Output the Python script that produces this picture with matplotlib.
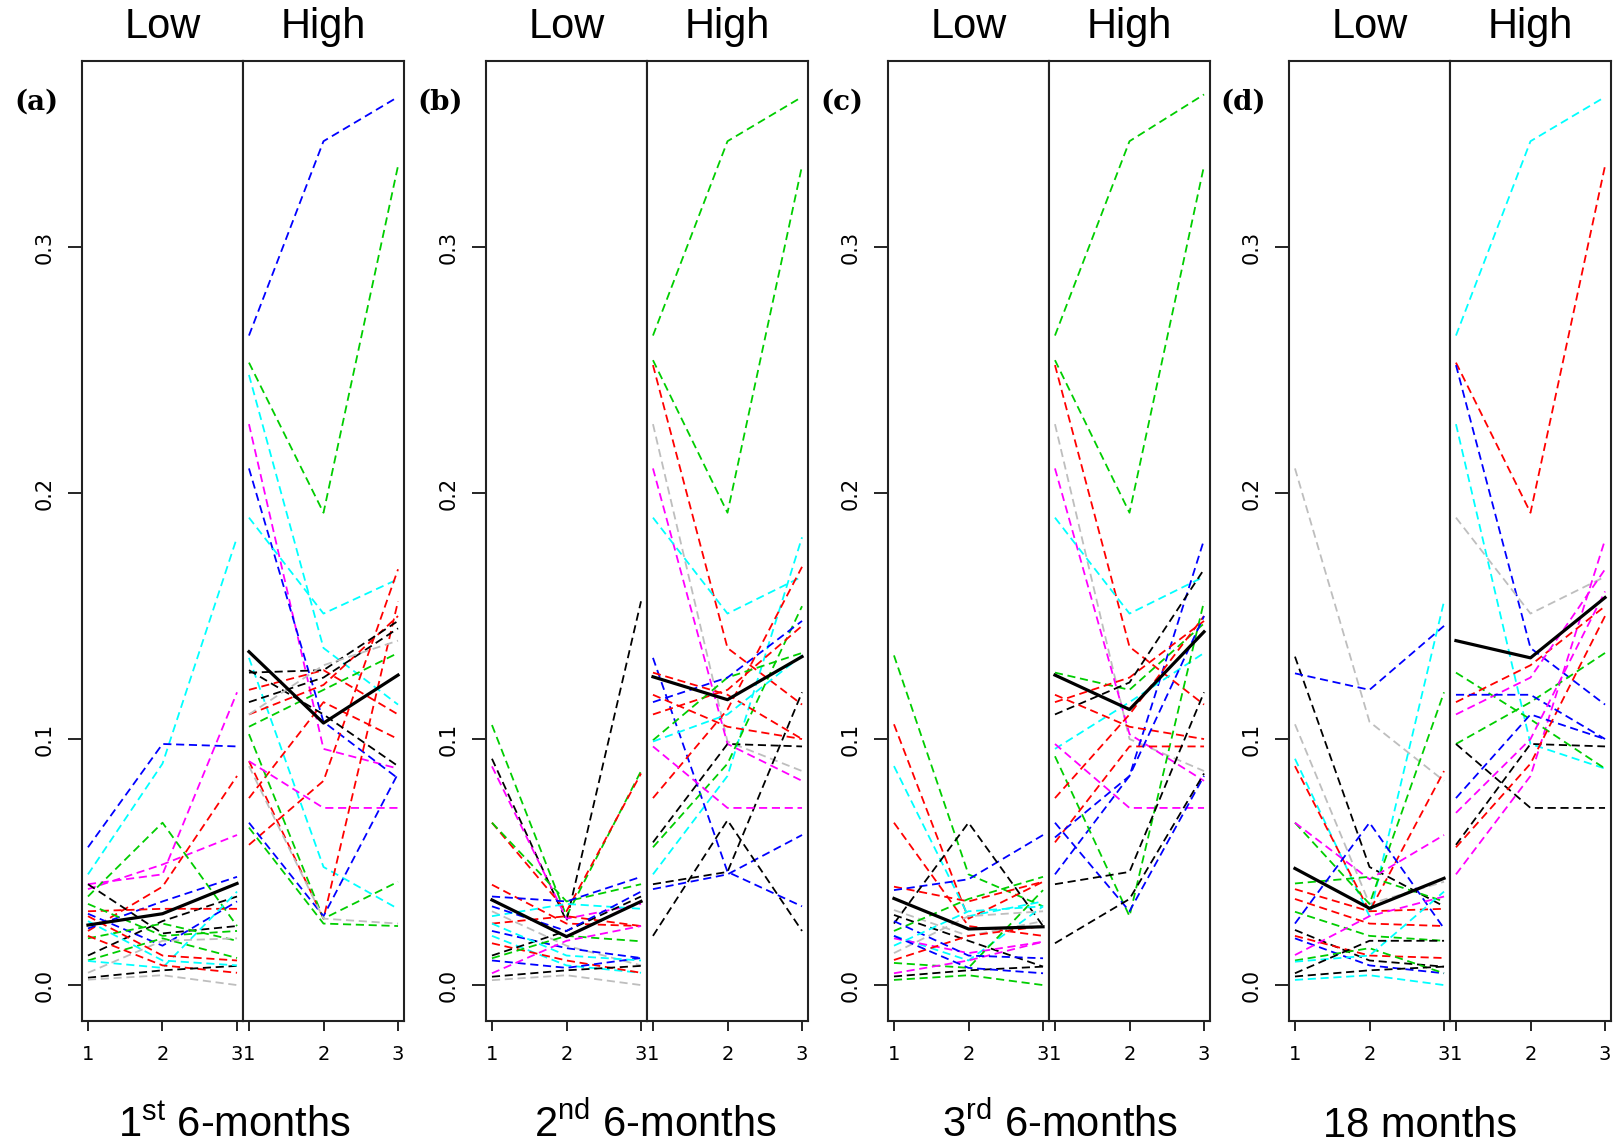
import matplotlib
matplotlib.use("Agg")
import matplotlib.pyplot as plt

# line colours by group code
palette = {'k': 'black', 'r': '#FF0000', 'g': '#00CD00', 'b': '#0000FF',
           'c': '#00FFFF', 'm': '#FF00FF', 'y': '#BEBEBE'}

x = [1, 2, 3]

# ---- (a) 1st 6-months ----
a_low_grp = "cbmmrgkbbkrggcrkyycrg"
a_low = [[0.045, 0.090, 0.182], [0.056, 0.098, 0.097], [0.041, 0.045, 0.119],
         [0.039, 0.049, 0.061], [0.022, 0.040, 0.085], [0.036, 0.066, 0.024],
         [0.041, 0.021, 0.024], [0.023, 0.034, 0.044], [0.029, 0.016, 0.034],
         [0.012, 0.026, 0.036], [0.030, 0.031, 0.031], [0.019, 0.025, 0.018],
         [0.010, 0.019, 0.011], [0.0098, 0.007, 0.038], [0.020, 0.008, 0.005],
         [0.003, 0.006, 0.0078], [0.0022, 0.004, 0.000], [0.005, 0.018, 0.019],
         [0.026, 0.010, 0.008], [0.028, 0.012, 0.010], [0.033, 0.020, 0.022]]
a_low_mean = [0.0244, 0.029, 0.0413]
a_high_grp = "bgcmbccrrrrrkkkgggbyym"
a_high = [[0.264, 0.343, 0.361], [0.253, 0.192, 0.333], [0.248, 0.137, 0.114],
          [0.228, 0.096, 0.088], [0.210, 0.107, 0.084], [0.190, 0.151, 0.165],
          [0.133, 0.048, 0.031], [0.091, 0.027, 0.156], [0.057, 0.083, 0.169],
          [0.110, 0.122, 0.150], [0.076, 0.115, 0.100], [0.120, 0.128, 0.110],
          [0.127, 0.128, 0.148], [0.115, 0.125, 0.145], [0.128, 0.110, 0.089],
          [0.105, 0.120, 0.135], [0.102, 0.027, 0.042], [0.064, 0.025, 0.024],
          [0.066, 0.028, 0.086], [0.089, 0.027, 0.025], [0.110, 0.130, 0.140],
          [0.091, 0.072, 0.072]]
a_high_mean = [0.1355, 0.1065, 0.126]

# ---- (b) 2nd 6-months ----
b_low_grp = "gkmrgrbycrbcrkgbmkybc"
b_low = [[0.1057, 0.028, 0.087], [0.092, 0.026, 0.156], [0.0889, 0.027, 0.033],
         [0.066, 0.030, 0.086], [0.066, 0.034, 0.041], [0.0408, 0.025, 0.024],
         [0.036, 0.034, 0.044], [0.030, 0.016, 0.008], [0.028, 0.033, 0.031],
         [0.025, 0.028, 0.024], [0.022, 0.015, 0.011], [0.020, 0.008, 0.005],
         [0.017, 0.010, 0.005], [0.012, 0.022, 0.036], [0.0109, 0.020, 0.0178],
         [0.010, 0.007, 0.011], [0.0048, 0.018, 0.024], [0.0034, 0.006, 0.0078],
         [0.002, 0.004, 0.000], [0.032, 0.022, 0.038], [0.025, 0.012, 0.010]]
b_low_mean = [0.0346, 0.0197, 0.0340]
b_high_grp = "ggrymccbbkkkgrrrgmbcr"
b_high = [[0.264, 0.343, 0.361], [0.254, 0.192, 0.333], [0.252, 0.137, 0.114],
          [0.228, 0.099, 0.087], [0.210, 0.098, 0.083], [0.190, 0.151, 0.166],
          [0.045, 0.085, 0.182], [0.133, 0.046, 0.032], [0.039, 0.045, 0.061],
          [0.041, 0.046, 0.119], [0.020, 0.067, 0.022], [0.058, 0.098, 0.097],
          [0.056, 0.090, 0.154], [0.076, 0.112, 0.170], [0.110, 0.120, 0.146],
          [0.127, 0.118, 0.100], [0.0995, 0.125, 0.135], [0.097, 0.072, 0.072],
          [0.115, 0.125, 0.148], [0.099, 0.110, 0.134], [0.118, 0.105, 0.100]]
b_high_mean = [0.1253, 0.116, 0.1335]

# ---- (c) 3rd 6-months ----
c_low_grp = "grcrrbkykgcmyrgmkgbbc"
c_low = [[0.134, 0.045, 0.032], [0.106, 0.027, 0.042], [0.089, 0.028, 0.034],
         [0.066, 0.024, 0.020], [0.040, 0.034, 0.042], [0.0386, 0.043, 0.061],
         [0.025, 0.066, 0.024], [0.0305, 0.020, 0.026], [0.0285, 0.018, 0.0075],
         [0.022, 0.035, 0.044], [0.020, 0.010, 0.032], [0.019, 0.013, 0.0176],
         [0.013, 0.028, 0.030], [0.0102, 0.020, 0.024], [0.009, 0.007, 0.0386],
         [0.0048, 0.010, 0.0176], [0.0035, 0.006, 0.0075], [0.0021, 0.004, 0.000],
         [0.026, 0.012, 0.0109], [0.020, 0.007, 0.0048], [0.016, 0.030, 0.032]]
c_low_mean = [0.0352, 0.0228, 0.0237]
c_high_grp = "ggrymcbgrkcmgrrbkkrb"
c_high = [[0.264, 0.343, 0.362], [0.254, 0.192, 0.333], [0.252, 0.1375, 0.114],
          [0.228, 0.100, 0.087], [0.210, 0.102, 0.083], [0.190, 0.151, 0.166],
          [0.045, 0.085, 0.181], [0.127, 0.120, 0.147], [0.115, 0.125, 0.148],
          [0.110, 0.123, 0.169], [0.096, 0.115, 0.135], [0.098, 0.072, 0.072],
          [0.093, 0.028, 0.156], [0.076, 0.110, 0.150], [0.058, 0.097, 0.097],
          [0.066, 0.030, 0.085], [0.041, 0.046, 0.119], [0.017, 0.035, 0.086],
          [0.118, 0.105, 0.100], [0.060, 0.085, 0.150]]
c_high_mean = [0.126, 0.112, 0.1436]

# ---- (d) 18 months ----
d_low_grp = "ykbycrgmgrrgbkrbmgckkc"
d_low = [[0.210, 0.107, 0.083], [0.1335, 0.048, 0.032], [0.1267, 0.120, 0.146],
         [0.106, 0.033, 0.042], [0.092, 0.028, 0.156], [0.089, 0.030, 0.087],
         [0.066, 0.033, 0.119], [0.066, 0.043, 0.061], [0.0413, 0.044, 0.034],
         [0.039, 0.030, 0.031], [0.035, 0.025, 0.024], [0.0298, 0.020, 0.018],
         [0.025, 0.066, 0.023], [0.0224, 0.010, 0.0075], [0.020, 0.012, 0.011],
         [0.019, 0.008, 0.0048], [0.0122, 0.028, 0.036], [0.010, 0.015, 0.0048],
         [0.0095, 0.012, 0.038], [0.0048, 0.018, 0.018], [0.0035, 0.006, 0.0075],
         [0.0021, 0.004, 0.000]]
d_low_mean = [0.0474, 0.0312, 0.0434]
d_high_grp = "crbcymgrmgkbkrbm"
d_high = [[0.264, 0.343, 0.361], [0.253, 0.192, 0.333], [0.252, 0.137, 0.114],
          [0.228, 0.098, 0.088], [0.190, 0.151, 0.166], [0.045, 0.085, 0.181],
          [0.127, 0.108, 0.088], [0.115, 0.130, 0.154], [0.110, 0.125, 0.169],
          [0.098, 0.115, 0.135], [0.098, 0.072, 0.072], [0.076, 0.110, 0.100],
          [0.057, 0.098, 0.097], [0.056, 0.090, 0.150], [0.118, 0.118, 0.100],
          [0.070, 0.100, 0.160]]
d_high_mean = [0.140, 0.133, 0.1575]

panel_tags = ['(a)', '(b)', '(c)', '(d)']
period_labels = [r'1$^{\mathrm{st}}$ 6-months', r'2$^{\mathrm{nd}}$ 6-months',
                 r'3$^{\mathrm{rd}}$ 6-months', '18 months']
group_names = ['Low', 'High']
yticks = [0.0, 0.1, 0.2, 0.3]
ytick_labels = ['0.0', '0.1', '0.2', '0.3']

panels = [
    ((a_low_grp, a_low, a_low_mean), (a_high_grp, a_high, a_high_mean)),
    ((b_low_grp, b_low, b_low_mean), (b_high_grp, b_high, b_high_mean)),
    ((c_low_grp, c_low, c_low_mean), (c_high_grp, c_high, c_high_mean)),
    ((d_low_grp, d_low, d_low_mean), (d_high_grp, d_high, d_high_mean)),
]

plt.rcParams['mathtext.fontset'] = 'custom'
plt.rcParams['mathtext.rm'] = 'Liberation Sans'
plt.rcParams['font.family'] = ['Liberation Sans', 'DejaVu Sans']

W, H = 1614, 1145
fig = plt.figure(figsize=(W / 100, H / 100), dpi=100)

lefts = [82, 486, 888, 1289]
sub_w = 161
top, bottom = 61, 1021
label_centers = [234, 655, 1060, 1420]

for i, (low, high) in enumerate(panels):
    for j, (grp, rows, mean) in enumerate([low, high]):
        x0 = lefts[i] + j * sub_w
        ax = fig.add_axes([x0 / W, 1 - bottom / H, sub_w / W, (bottom - top) / H])
        for code, vals in zip(grp, rows):
            ax.plot(x, vals, color=palette[code], lw=1.3, ls=(0, (4.5, 2.6)))
        ax.plot(x, mean, color='black', lw=2.3, zorder=5)
        ax.set_xlim(0.92, 3.08)
        ax.set_ylim(-0.0146, 0.3756)
        ax.set_xticks([1, 2, 3])
        ax.set_xticklabels(['1', '2', '3'], family='DejaVu Sans', fontsize=14)
        ax.tick_params(axis='x', length=7, width=1.2, pad=10)
        if j == 0:
            ax.set_yticks(yticks)
            ax.set_yticklabels(ytick_labels, rotation=90, va='center',
                               family='DejaVu Sans', fontsize=15)
            ax.tick_params(axis='y', length=10, width=1.2, pad=10)
        else:
            ax.set_yticks([])
        for sp in ax.spines.values():
            sp.set_linewidth(1.5)
            sp.set_color('#222222')
        fig.text((x0 + sub_w / 2) / W, 1 - 27 / H, group_names[j],
                 ha='center', va='center', fontsize=30)
    fig.text((lefts[i] - 46) / W, 1 - 102 / H, panel_tags[i], ha='center',
             va='center', fontsize=20, fontweight='bold', family='DejaVu Serif')
    fig.text(label_centers[i] / W, 1 - 1137 / H, period_labels[i],
             ha='center', va='baseline', fontsize=30)

fig.savefig('out.png', dpi=100)
